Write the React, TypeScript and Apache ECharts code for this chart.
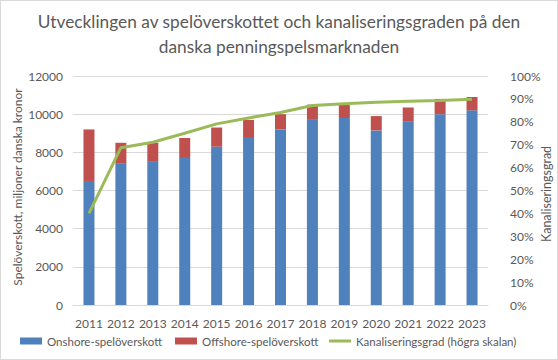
import React, { useEffect, useRef } from "react";
import * as echarts from "echarts";

const years = ["2011","2012","2013","2014","2015","2016","2017","2018","2019","2020","2021","2022","2023"];
const onshore = [6500, 7400, 7500, 7750, 8300, 8800, 9200, 9700, 9800, 9150, 9600, 10000, 10200];
const offshore = [2700, 1100, 1000, 1000, 1000, 900, 800, 800, 700, 750, 750, 800, 700];
const channelisation = [40, 68.7, 71.1, 75, 79.1, 81.7, 84.1, 87.1, 87.9, 88.5, 89.0, 89.3, 89.9];

const FONT = "Lato";
const GREY = "#595959";
const BLUE = "#4f81bd";
const RED = "#c0504d";
const GREEN = "#9bbb59";

const legendText = { fontFamily: FONT, fontSize: 11.5, color: GREY };

export default function App() {
  const ref = useRef<HTMLDivElement>(null);
  useEffect(() => {
    document.body.style.margin = "0";
    const chart = echarts.init(ref.current!, null, { renderer: "svg" });
    chart.setOption({
      animation: false,
      textStyle: { fontFamily: FONT, color: GREY },
      title: {
        text: "Utvecklingen av spelöverskottet och kanaliseringsgraden på den\ndanska penningspelsmarknaden",
        left: "center",
        top: 3,
        textStyle: { fontFamily: FONT, fontSize: 17.3, fontWeight: "normal", color: GREY, lineHeight: 25 },
      },
      legend: [
        {
          bottom: 7,
          left: 14,
          itemGap: 0,
          itemWidth: 22,
          itemHeight: 7,
          textStyle: legendText,
          data: [{ name: "Onshore-spelöverskott", icon: "rect" }],
        },
        {
          bottom: 7,
          left: 169,
          itemGap: 0,
          itemWidth: 22,
          itemHeight: 7,
          textStyle: legendText,
          data: [{ name: "Offshore-spelöverskott", icon: "rect" }],
        },
        {
          bottom: 7,
          left: 323,
          itemGap: 0,
          itemWidth: 22,
          itemHeight: 3,
          textStyle: legendText,
          data: [{ name: "Kanaliseringsgrad (högra skalan)", icon: "rect", itemStyle: { color: GREEN } }],
        },
      ],
      grid: { left: 72, right: 69, top: 75, bottom: 54 },
      xAxis: {
        type: "category",
        data: years,
        axisLine: { lineStyle: { color: "#d9d9d9" } },
        axisTick: { show: false },
        axisLabel: { color: GREY, fontSize: 12, margin: 12, fontFamily: FONT, interval: 0 },
      },
      yAxis: [
        {
          type: "value",
          min: 0,
          max: 12000,
          interval: 2000,
          axisLine: { show: false },
          axisTick: { show: false },
          splitLine: { lineStyle: { color: "#d9d9d9" } },
          axisLabel: { color: GREY, fontSize: 12, margin: 10, fontFamily: FONT, formatter: (v: number) => String(v) },
        },
        {
          type: "value",
          min: 0,
          max: 100,
          interval: 10,
          axisLine: { show: false },
          axisTick: { show: false },
          splitLine: { show: false },
          axisLabel: { color: GREY, fontSize: 12, margin: 22, fontFamily: FONT, formatter: (v: number) => v + "%" },
        },
      ],
      graphic: [
        {
          type: "text",
          x: 16,
          y: 186,
          rotation: Math.PI / 2,
          style: {
            text: "Spelöverskott, miljoner danska kronor",
            font: `12px ${FONT}`,
            fill: GREY,
            textAlign: "center",
            textVerticalAlign: "middle",
          },
        },
        {
          type: "text",
          x: 545,
          y: 193,
          rotation: Math.PI / 2,
          style: {
            text: "Kanaliseringsgrad",
            font: `12.5px ${FONT}`,
            fill: GREY,
            textAlign: "center",
            textVerticalAlign: "middle",
          },
        },
      ],
      series: [
        {
          name: "Onshore-spelöverskott",
          type: "bar",
          stack: "total",
          barWidth: 11,
          itemStyle: { color: BLUE },
          data: onshore,
        },
        {
          name: "Offshore-spelöverskott",
          type: "bar",
          stack: "total",
          barWidth: 11,
          itemStyle: { color: RED },
          data: offshore,
        },
        {
          name: "Kanaliseringsgrad (högra skalan)",
          type: "line",
          yAxisIndex: 1,
          symbol: "none",
          lineStyle: { color: GREEN, width: 3 },
          itemStyle: { color: GREEN },
          data: channelisation,
        },
      ],
    });
    return () => chart.dispose();
  }, []);
  return (
    <div
      ref={ref}
      style={{ width: 558, height: 360, boxSizing: "border-box", border: "1px solid #d9d9d9" }}
    />
  );
}
